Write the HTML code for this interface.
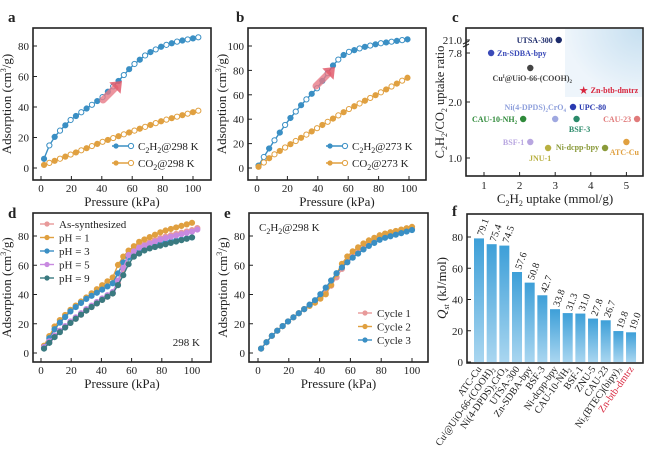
<!DOCTYPE html>
<html><head><meta charset="utf-8"><style>
html,body{margin:0;padding:0;background:#fff;}
svg{display:block;font-family:"Liberation Serif",serif;}
</style></head><body>
<svg id="s" width="654" height="461" viewBox="0 0 654 461" xmlns="http://www.w3.org/2000/svg">
<defs>
<linearGradient id="bar" x1="0" y1="0" x2="0" y2="1"><stop offset="0" stop-color="#3d9fd8"/><stop offset="1" stop-color="#a9d6f0"/></linearGradient>
<radialGradient id="shade" cx="1" cy="0" r="1"><stop offset="0" stop-color="#c6dff0"/><stop offset="1" stop-color="#eef5fb"/></radialGradient>
</defs>
</svg>
<script>
const S=document.getElementById('s');let h='';
function T(x,y,t,o={}){h+=`<text x="${x}" y="${y}" font-size="${o.fs||11}" fill="${o.c||'#222'}" text-anchor="${o.a||'start'}" ${o.b?'font-weight="bold"':''} ${o.r!==undefined?`transform="rotate(${o.r} ${x} ${y})"`:''}>${t}</text>`;}
function frame(x1,y1,x2,y2){h+=`<rect x="${x1}" y="${y1}" width="${x2-x1}" height="${y2-y1}" fill="none" stroke="#222" stroke-width="1.6"/>`;}
function lerp(pts,x){for(let i=0;i<pts.length-1;i++){if(x<=pts[i+1][0]){const [a,b]=pts[i],[c,d]=pts[i+1];return b+(d-b)*(x-a)/(c-a);}}return pts[pts.length-1][1];}
function curve(P,pts,col,open,step){const xs=[];for(let x=pts[0][0];x<=pts[pts.length-1][0]+0.01;x+=step)xs.push(x);
 let d='';xs.forEach((x,i)=>{d+=(i?'L':'M')+P.X(x).toFixed(1)+' '+P.Y(lerp(pts,x)).toFixed(1);});
 h+=`<path d="${d}" fill="none" stroke="${col}" stroke-width="1.4"/>`;
 xs.forEach((x,i)=>{const cx=P.X(x),cy=P.Y(lerp(pts,x));h+=`<circle cx="${cx}" cy="${cy}" r="2.6" fill="${open&&i%2?'#fff':col}" stroke="${col}" stroke-width="1"/>`;});}
function axes(P,yt,xt,ylab,xlab){frame(P.x1,P.y1,P.x2,P.y2);
 yt.forEach(v=>{const y=P.Y(v);h+=`<line x1="${P.x1}" y1="${y}" x2="${P.x1+4}" y2="${y}" stroke="#222"/>`;T(P.x1-4,y+4,v,{a:'end',fs:11});});
 xt.forEach(v=>{const x=P.X(v);h+=`<line x1="${x}" y1="${P.y2}" x2="${x}" y2="${P.y2-4}" stroke="#222"/>`;T(x,P.y2+12,v,{a:'middle',fs:11});});
 T(P.x1-22,(P.y1+P.y2)/2,ylab,{a:'middle',fs:13,r:-90});T((P.x1+P.x2)/2,P.y2+26,xlab,{a:'middle',fs:13});}
function mk(x1,y1,x2,y2,x0,x100,y0,yv,v){return {x1,y1,x2,y2,X:x=>x0+(x100-x0)*x/100,Y:y=>y0-(y0-yv)*y/v};}
function arrow(x1,y1,x2,y2){const a=Math.atan2(y2-y1,x2-x1),L=10,W=8;
 const bx=x2-L*Math.cos(a),by=y2-L*Math.sin(a),px=-Math.sin(a),py=Math.cos(a);
 h+=`<line x1="${x1}" y1="${y1}" x2="${bx}" y2="${by}" stroke="#e87a86" stroke-width="7" stroke-linecap="round" opacity="0.8"/>`;
 h+=`<polygon points="${x2},${y2} ${bx+px*W},${by+py*W} ${bx-px*W},${by-py*W}" fill="#e25c6c" opacity="0.85"/>`;}
const ylab='Adsorption (cm<tspan font-size="8" dy="-5">3</tspan><tspan dy="5">/g)</tspan>';
const xl='Pressure (kPa)';
const BL='#3a8fc4',OR='#e0a040';
// a
let A=mk(33,28,211,180,41,193,168,46,80);
axes(A,[0,20,40,60,80],[0,20,40,60,80,100],ylab,xl);
curve(A,[[2,6],[5,14],[10,22],[20,32],[30,39],[40,46],[50,56],[60,67],[70,75],[80,80],[90,83],[105,86]],BL,1,3.5);
curve(A,[[2,2],[20,9],[40,17],[60,24],[80,31],[105,38]],OR,1,3.5);
arrow(103,100,122,81);
T(8,22,'a',{fs:15,b:1});
h+=`<line x1="112" y1="146" x2="134" y2="146" stroke="${BL}" stroke-width="1.4"/><circle cx="116" cy="146" r="2.6" fill="${BL}"/><circle cx="131" cy="146" r="2.6" fill="#fff" stroke="${BL}"/>`;
T(138,150,'C<tspan font-size="8" dy="3">2</tspan><tspan dy="-3">H</tspan><tspan font-size="8" dy="3">2</tspan><tspan dy="-3">@298 K</tspan>',{fs:11});
h+=`<line x1="112" y1="163" x2="134" y2="163" stroke="${OR}" stroke-width="1.4"/><circle cx="116" cy="163" r="2.6" fill="${OR}"/><circle cx="131" cy="163" r="2.6" fill="#fff" stroke="${OR}"/>`;
T(138,167,'CO<tspan font-size="8" dy="3">2</tspan><tspan dy="-3">@298 K</tspan>',{fs:11});
// b
let B=mk(248,28,426,180,257,409,168,46,100);
axes(B,[0,20,40,60,80,100],[0,20,40,60,80,100],ylab,xl);
curve(B,[[1,2],[5,10],[10,20],[20,38],[30,53],[40,66],[50,84],[55,91],[60,95],[70,99],[80,102],[102,106]],BL,1,3.5);
curve(B,[[1,1],[10,10],[20,18],[40,33],[60,48],[80,61],[102,76]],OR,1,3.5);
arrow(316,86,335,67);
T(236,22,'b',{fs:15,b:1});
h+=`<line x1="326" y1="146" x2="348" y2="146" stroke="${BL}" stroke-width="1.4"/><circle cx="330" cy="146" r="2.6" fill="${BL}"/><circle cx="345" cy="146" r="2.6" fill="#fff" stroke="${BL}"/>`;
T(352,150,'C<tspan font-size="8" dy="3">2</tspan><tspan dy="-3">H</tspan><tspan font-size="8" dy="3">2</tspan><tspan dy="-3">@273 K</tspan>',{fs:11});
h+=`<line x1="326" y1="163" x2="348" y2="163" stroke="${OR}" stroke-width="1.4"/><circle cx="330" cy="163" r="2.6" fill="${OR}"/><circle cx="345" cy="163" r="2.6" fill="#fff" stroke="${OR}"/>`;
T(352,167,'CO<tspan font-size="8" dy="3">2</tspan><tspan dy="-3">@273 K</tspan>',{fs:11});
// c
h+=`<rect x="565" y="29" width="77" height="68" fill="url(#shade)"/>`;
frame(466,28,643,176);
const CX=u=>484+(u-1)*35.6;
[[21.0,40],[7.8,53],[2.0,102],[1.0,158]].forEach(([v,y])=>{h+=`<line x1="466" y1="${y}" x2="470" y2="${y}" stroke="#222"/>`;T(462,y+4,v.toFixed(1),{a:'end',fs:11});});
h+=`<path d="M463 44 l6 -3 M463 47 l6 -3" stroke="#222"/>`;
[1,2,3,4,5].forEach(u=>{const x=CX(u);h+=`<line x1="${x}" y1="176" x2="${x}" y2="172" stroke="#222"/>`;T(x,189,u,{a:'middle'});});
T(444,102,'C<tspan font-size="8" dy="3">2</tspan><tspan dy="-3">H</tspan><tspan font-size="8" dy="3">2</tspan><tspan dy="-3">/CO</tspan><tspan font-size="8" dy="3">2</tspan><tspan dy="-3"> uptake ratio</tspan>',{a:'middle',fs:12.5,r:-90});
T(555,203,'C<tspan font-size="8" dy="3">2</tspan><tspan dy="-3">H</tspan><tspan font-size="8" dy="3">2</tspan><tspan dy="-3"> uptake (mmol/g)</tspan>',{a:'middle',fs:13});
T(452,22,'c',{fs:15,b:1});
const pts=[[3.1,40,'#1c2a6a','UTSA-300',-6,3,'end'],[1.2,53,'#3a4ab8','Zn-SDBA-bpy',6,3,'start'],[2.3,68,'#444','Cu<tspan font-size="5" dy="-3">I</tspan><tspan dy="3">@UiO-66-(COOH)</tspan><tspan font-size="5" dy="2">2</tspan>',2,13,'middle'],
[3.5,107,'#2a3ab0','UPC-80',6,3,'start'],[3.0,119,'#9fa8e0','',0,0,'middle'],
[2.1,119,'#2f8a3a','CAU-10-NH<tspan font-size="5" dy="2">2</tspan>',-6,3,'end'],[3.6,119,'#2a8a6a','BSF-3',3,13,'middle'],[5.3,119,'#e07a7a','CAU-23',-6,3,'end'],
[2.3,142,'#b8a6e0','BSF-1',-6,3,'end'],[2.8,148,'#b8b040','JNU-1',-8,13,'middle'],[4.4,148,'#8a9a3a','Ni-dcpp-bpy',-6,2,'end'],[5.0,142,'#e0a040','ATC-Cu',-2,13,'middle']];
pts.forEach(([u,y,c,l,dx,dy,a])=>{const x=CX(u);h+=`<circle cx="${x}" cy="${y}" r="3.2" fill="${c}"/>`;if(l)T(x+dx,y+dy,l,{c:c,fs:8,b:1,a:a});});
T(CX(3.5)-7,110,'Ni(4-DPDS)<tspan font-size="5" dy="2">2</tspan><tspan dy="-2">CrO</tspan><tspan font-size="5" dy="2">4</tspan>',{c:'#8fa0dc',fs:8,b:1,a:'end'});
h+=`<text x="${CX(3.8)}" y="94" font-size="11" fill="#d8243c" text-anchor="middle">★</text>`;T(CX(3.8)+7,93,'Zn-btb-dmtrz',{c:'#d8243c',fs:8,b:1});
// d
let D=mk(33,213,211,362,41,192,353,236,80);
axes(D,[0,20,40,60,80],[0,20,40,60,80,100],ylab,xl);
T(8,218,'d',{fs:15,b:1});
const dser=[['#e89a9a',[[2,4],[10,13],[20,21],[30,29],[40,36],[48,41],[52,50],[58,67],[65,73],[80,79],[100,84],[105,86]]],
['#e0a040',[[2,5],[10,20],[20,30],[30,38],[40,46],[48,52],[52,63],[58,70],[65,76],[80,83],[100,89],[102,90]]],
['#3a8fc4',[[2,4],[10,18],[20,29],[30,37],[40,43],[48,48],[55,63],[62,68],[80,75],[100,79]]],
['#c88ae0',[[2,4],[10,13],[20,22],[30,30],[40,37],[48,42],[52,52],[58,67],[65,72],[80,78],[100,83],[105,85]]],
['#3a7a80',[[2,3],[10,12],[20,21],[30,29],[40,36],[48,41],[53,50],[60,65],[70,71],[100,79]]]];
dser.forEach(([c,p])=>curve(D,p,c,0,3.5));
['As-synthesized','pH = 1','pH = 3','pH = 5','pH = 9'].forEach((l,i)=>{const y=224+i*13.5;const c=dser[i][0];h+=`<line x1="40" y1="${y}" x2="54" y2="${y}" stroke="${c}" stroke-width="1.4"/><circle cx="47" cy="${y}" r="2.6" fill="${c}"/>`;T(59,y+4,l,{fs:11});});
T(200,346,'298 K',{a:'end',fs:11});
// e
let E=mk(249,213,428,362,258,412,353,236,80);
axes(E,[0,20,40,60,80],[0,20,40,60,80,100],ylab,xl);
T(224,218,'e',{fs:15,b:1});
T(259,231,'C<tspan font-size="8" dy="3">2</tspan><tspan dy="-3">H</tspan><tspan font-size="8" dy="3">2</tspan><tspan dy="-3">@298 K</tspan>',{fs:11});
const eser=[['#e89a9a',[[2,3],[10,13],[20,22],[30,30],[38,36],[45,42],[50,50],[56,60],[62,68],[70,74],[80,80],[103,86]]],
['#e0a040',[[2,3],[10,13],[20,22],[30,30],[38,35],[45,41],[50,52],[56,64],[62,70],[70,76],[80,81],[103,87]]],
['#3a8fc4',[[2,3],[10,13],[20,22],[30,30],[38,37],[45,46],[52,56],[60,64],[70,72],[80,78],[103,85]]]];
eser.forEach(([c,p])=>curve(E,p,c,0,3.5));
['Cycle 1','Cycle 2','Cycle 3'].forEach((l,i)=>{const y=313+i*13.5;const c=eser[i][0];h+=`<line x1="358" y1="${y}" x2="372" y2="${y}" stroke="${c}" stroke-width="1.4"/><circle cx="365" cy="${y}" r="2.6" fill="${c}"/>`;T(377,y+4,l,{fs:11});});
// f
frame(467,214,643,363);
const FY=v=>362-v*1.5625;
[0,20,40,60,80].forEach(v=>{const y=FY(v);h+=`<line x1="467" y1="${y}" x2="471" y2="${y}" stroke="#222"/>`;T(463,y+4,v,{a:'end',fs:11});});
T(446,288,'<tspan font-style="italic">Q</tspan><tspan font-size="8" dy="3" font-style="italic">st</tspan><tspan dy="-3"> (kJ/mol)</tspan>',{a:'middle',fs:13,r:-90});
T(452,216,'f',{fs:15,b:1});
const bars=[[79.1,'ATC-Cu'],[75.4,'Cu<tspan font-size="6" dy="-3">I</tspan><tspan dy="3">@UiO-66-(COOH)</tspan><tspan font-size="6" dy="2">2</tspan>'],[74.5,'Ni(4-DPDS)<tspan font-size="6" dy="2">2</tspan><tspan dy="-2">CrO</tspan><tspan font-size="6" dy="2">4</tspan>'],[57.6,'UTSA-300'],[50.8,'Zn-SDBA-bpy'],[42.7,'BSF-3'],[33.8,'Ni-dcpp-bpy'],[31.3,'CAU-10-NH<tspan font-size="6" dy="2">2</tspan>'],[31.0,'BSF-1'],[27.8,'ZNU-5'],[26.7,'CAU-23'],[19.8,'Ni<tspan font-size="6" dy="2">2</tspan><tspan dy="-2">(BTEC)(bipy)</tspan><tspan font-size="6" dy="2">3</tspan>'],[19.0,'Zn-btb-dmtrz']];
bars.forEach(([v,l],i)=>{const x=479+i*12.67;const y=FY(v);h+=`<rect x="${x-5}" y="${y}" width="10" height="${362-y}" fill="url(#bar)"/>`;
T(x+4,y-2,v.toFixed(1),{fs:10,r:-70});
T(x+3,369,l,{fs:10,a:'end',r:-55,c:i==12?'#d8243c':'#222'});});
S.insertAdjacentHTML('beforeend',h);
</script>
</body></html>
